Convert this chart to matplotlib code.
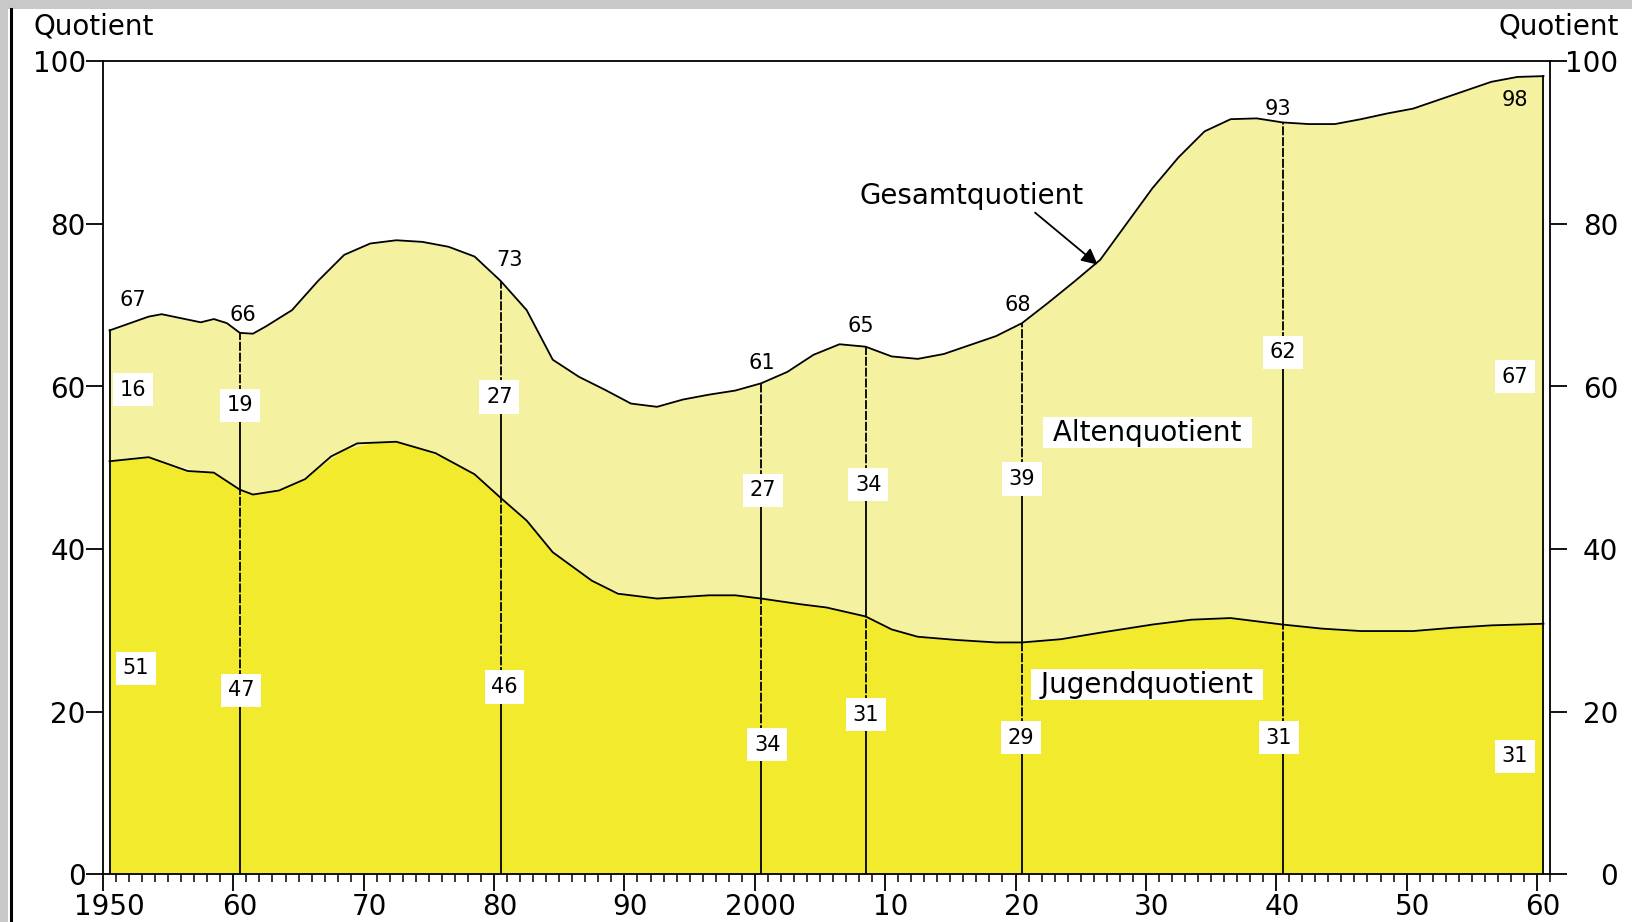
import numpy as np
import matplotlib
matplotlib.use("Agg")
import matplotlib.pyplot as plt
import matplotlib.transforms as mtransforms
from matplotlib.patches import Rectangle

plt.rcParams['font.family'] = ['DejaVu Sans']

# Gesamtquotient (upper curve)
gesamt_years = [1950, 1953, 1954, 1957, 1958, 1959, 1960, 1961, 1962, 1964, 1966, 1968,
                1970, 1972, 1974, 1976, 1978, 1980, 1982, 1984, 1986, 1988, 1990, 1992,
                1994, 1996, 1998, 2000, 2002, 2004, 2006, 2008, 2010, 2012, 2014, 2016,
                2018, 2020, 2022, 2024, 2026, 2028, 2030, 2032, 2034, 2036, 2038, 2040,
                2042, 2044, 2046, 2048, 2050, 2052, 2054, 2056, 2058, 2060]
gesamt_vals = [66.9, 68.6, 68.9, 67.9, 68.3, 67.8, 66.6, 66.5, 67.4, 69.4, 73.0, 76.2,
               77.6, 78.0, 77.8, 77.2, 76.0, 73.0, 69.4, 63.3, 61.2, 59.6, 57.9, 57.5,
               58.4, 59.0, 59.5, 60.4, 61.8, 63.9, 65.2, 64.9, 63.7, 63.4, 64.0, 65.1,
               66.2, 67.8, 70.3, 72.9, 75.6, 80.0, 84.4, 88.2, 91.4, 92.9, 93.0, 92.5,
               92.3, 92.3, 92.9, 93.6, 94.2, 95.3, 96.4, 97.5, 98.1, 98.2]

# Jugendquotient (lower curve)
jugend_years = [1950, 1953, 1956, 1958, 1960, 1961, 1963, 1965, 1967, 1969, 1972, 1975,
                1978, 1980, 1982, 1984, 1987, 1989, 1992, 1996, 1998, 2000, 2003, 2005,
                2008, 2010, 2012, 2015, 2018, 2020, 2023, 2026, 2030, 2033, 2036, 2040,
                2043, 2046, 2050, 2053, 2056, 2060]
jugend_vals = [50.8, 51.3, 49.6, 49.4, 47.3, 46.7, 47.2, 48.6, 51.4, 53.0, 53.2, 51.8,
               49.2, 46.3, 43.5, 39.6, 36.1, 34.5, 33.9, 34.3, 34.3, 33.9, 33.2, 32.8,
               31.7, 30.1, 29.2, 28.8, 28.5, 28.5, 28.9, 29.7, 30.7, 31.3, 31.5, 30.7,
               30.2, 29.9, 29.9, 30.3, 30.6, 30.8]

# labelled years and their printed values
mark_years = [1950, 1960, 1980, 2000, 2008, 2020, 2040, 2060]
gesamt_labels = [67, 66, 73, 61, 65, 68, 93, 98]
alten_labels = [16, 19, 27, 27, 34, 39, 62, 67]
jugend_labels = [51, 47, 46, 34, 31, 29, 31, 31]

# label placement (x in years, y in quotient units)
gesamt_lx = [1952.3, 1960.7, 1981.2, 2000.5, 2008.1, 2020.2, 2040.1, 2058.3]
gesamt_ly = [70.6, 68.8, 75.6, 62.9, 67.4, 70.0, 94.2, 95.2]
alten_lx = [1952.3, 1960.5, 1980.4, 2000.6, 2008.7, 2020.5, 2040.5, 2058.3]
alten_ly = [59.6, 57.7, 58.7, 47.2, 47.9, 48.6, 64.2, 61.2]
jugend_lx = [1952.5, 1960.6, 1980.8, 2000.95, 2008.5, 2020.4, 2040.2, 2058.3]
jugend_ly = [25.3, 22.6, 23.0, 15.9, 19.6, 16.8, 16.8, 14.5]

dark_yellow = '#F2EB2D'
light_yellow = '#F4F1A0'

fig = plt.figure(figsize=(16.33, 9.22), dpi=100)

# grey frame remnants of the screenshot
fig.patches.append(Rectangle((0, 1 - 9 / 922), 1, 9 / 922, transform=fig.transFigure,
                             facecolor='#C8C8C8', edgecolor='none', zorder=0))
fig.patches.append(Rectangle((0, 0), 8 / 1633, 1, transform=fig.transFigure,
                             facecolor='#C8C8C8', edgecolor='none', zorder=0))
fig.add_artist(plt.Line2D([10.5 / 1633, 10.5 / 1633], [0, 1 - 9 / 922], color='black',
                          lw=2.2, transform=fig.transFigure))

ax = fig.add_axes([103 / 1633, 48 / 922, 1447 / 1633, 812.5 / 922])

# values are drawn at mid-year
gx = np.array(gesamt_years) + 0.5
gy = np.array(gesamt_vals)
jx = np.array(jugend_years) + 0.5
jy = np.array(jugend_vals)

ax.fill_between(jx, 0, jy, color=dark_yellow, lw=0, zorder=1)
jy_on_g = np.interp(gx, jx, jy)
ax.fill_between(gx, jy_on_g, gy, color=light_yellow, lw=0, zorder=1)
ax.plot(gx, gy, color='black', lw=1.3, zorder=3)
ax.plot(jx, jy, color='black', lw=1.3, zorder=3)
for xe in (gx[0], gx[-1]):
    ax.plot([xe, xe], [0, np.interp(xe, gx, gy)], color='black', lw=1.3, zorder=3)

# vertical marker lines: dashed above each label, solid below
dash = (0, (5, 1))
for i, yr in enumerate(mark_years[1:-1], start=1):
    x = yr + 0.5
    top = np.interp(x, gx, gy)
    mid = np.interp(x, jx, jy)
    ax.plot([x, x], [alten_ly[i], top], color='black', lw=1.3, ls=dash, zorder=2)
    ax.plot([x, x], [mid, alten_ly[i]], color='black', lw=1.3, zorder=2)
    ax.plot([x, x], [jugend_ly[i], mid], color='black', lw=1.3, ls=dash, zorder=2)
    ax.plot([x, x], [0, jugend_ly[i]], color='black', lw=1.3, zorder=2)

box = dict(boxstyle='square,pad=0.32', facecolor='white', edgecolor='none')
for v, x, y in zip(gesamt_labels, gesamt_lx, gesamt_ly):
    ax.text(x, y, str(v), fontsize=15, ha='center', va='center', zorder=4)
for v, x, y in zip(alten_labels, alten_lx, alten_ly):
    ax.text(x, y, str(v), fontsize=15, ha='center', va='center', bbox=box, zorder=4)
for v, x, y in zip(jugend_labels, jugend_lx, jugend_ly):
    ax.text(x, y, str(v), fontsize=15, ha='center', va='center', bbox=box, zorder=4)

name_box = dict(boxstyle='square,pad=0.05', facecolor='white', edgecolor='none')
ax.text(2030.1, 54.3, ' Altenquotient ', fontsize=20, ha='center', va='center',
        bbox=name_box, zorder=4)
ax.text(2030.1, 23.3, ' Jugendquotient ', fontsize=20, ha='center', va='center',
        bbox=name_box, zorder=4)
ax.text(2016.6, 83.4, 'Gesamtquotient', fontsize=20, ha='center', va='center', zorder=4)
ax.annotate('', xy=(2026.3, 75.0), xytext=(2021.5, 81.4), zorder=4,
            arrowprops=dict(arrowstyle='-|>', color='black', lw=1.3, mutation_scale=24,
                            shrinkA=0, shrinkB=0))

ax.set_xlim(1950, 2061)
ax.set_ylim(0, 100)
for s in ax.spines.values():
    s.set_linewidth(1.3)

ax.set_xticks(np.arange(1950, 2061, 10))
ax.set_xticks(np.arange(1950, 2062, 1), minor=True)
ax.set_xticklabels(['1950', '60', '70', '80', '90', '2000', '10', '20', '30', '40', '50', '60'])
ax.tick_params(axis='x', which='major', length=12.5, width=1.3, labelsize=20, pad=1)
ax.tick_params(axis='x', which='minor', length=6, width=1.1)
shift = mtransforms.ScaledTranslation(6 / 100, 0, fig.dpi_scale_trans)
for lab in ax.get_xticklabels():
    lab.set_transform(lab.get_transform() + shift)

ax.set_yticks(np.arange(0, 101, 20))
ax.tick_params(axis='y', length=12, width=1.3, labelsize=20, pad=0.5)

ax2 = ax.twinx()
ax2.set_ylim(0, 100)
ax2.set_yticks(np.arange(0, 101, 20))
ax2.tick_params(axis='y', length=12, width=1.3, labelsize=20, pad=37)
for lab in ax2.get_yticklabels():
    lab.set_horizontalalignment('right')
for s in ax2.spines.values():
    s.set_visible(False)

fig.text(94 / 1633, 1 - 26 / 922, 'Quotient', fontsize=20, ha='center', va='center')
fig.text(1559 / 1633, 1 - 26 / 922, 'Quotient', fontsize=20, ha='center', va='center')

fig.savefig('out.png', dpi=100)
